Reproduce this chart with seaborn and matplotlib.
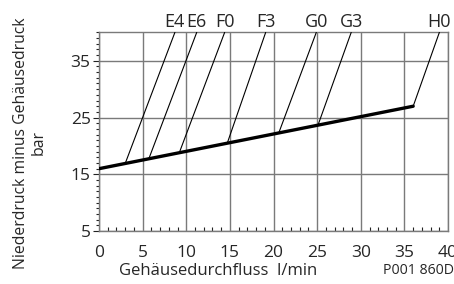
import numpy as np
import pandas as pd
import matplotlib
matplotlib.use("Agg")
import matplotlib.pyplot as plt
import seaborn as sns
from matplotlib.ticker import MultipleLocator

# ---- Daten ----
base_flow = [0.0, 36.0]          # Gehäusedurchfluss l/min
base_pressure = [16.0, 27.0]     # Differenzdruck bar

curve_names = ["E4", "E6", "F0", "F3", "G0", "G3", "H0"]
curve_x_start = [3.0, 5.7, 9.2, 14.7, 20.6, 25.1, 36.0]
curve_y_start = [16.9, 17.7, 18.8, 20.5, 22.3, 23.7, 27.0]
curve_x_end = [8.7, 11.2, 14.4, 19.1, 24.9, 28.9, 39.0]
curve_y_end = [40.0, 40.0, 40.0, 40.0, 40.0, 40.0, 40.0]

x_ticks = [0, 5, 10, 15, 20, 25, 30, 35, 40]
y_ticks = [5, 15, 25, 35]

sns.set_style("ticks")
plt.rcParams["font.family"] = ["Open Sans", "DejaVu Sans"]

fig = plt.figure(figsize=(4.54, 2.84), dpi=100)
ax = fig.add_axes([0.218, 0.186, 0.769, 0.700])

grid_col = "#7a7a7a"

# Kennlinien (dünn)
for name, x0, y0, x1, y1 in zip(curve_names, curve_x_start, curve_y_start,
                                curve_x_end, curve_y_end):
    sns.lineplot(x=[x0, x1], y=[y0, y1], color="black", linewidth=0.8,
                 ax=ax, zorder=3)
    ax.text(x1, y1 + 0.9, name, ha="center", va="baseline", fontsize=13,
            clip_on=False)

# Grundlinie (dick)
sns.lineplot(x=base_flow, y=base_pressure, color="black", linewidth=2.4,
             ax=ax, zorder=4)

ax.set_xlim(0, 40)
ax.set_ylim(5, 40)
ax.set_xticks(x_ticks)
ax.set_yticks(y_ticks)
ax.xaxis.set_minor_locator(MultipleLocator(1))
ax.yaxis.set_minor_locator(MultipleLocator(1))

ax.grid(True, which="major", color=grid_col, linewidth=1.0)
for sp in ax.spines.values():
    sp.set_color(grid_col)
    sp.set_linewidth(1.0)

ax.tick_params(axis="x", which="major", length=0, pad=10, labelsize=12.5)
ax.tick_params(axis="x", which="minor", direction="in", length=3,
               width=0.8, color="#222222")
ax.tick_params(axis="y", which="major", direction="out", length=4,
               width=0.8, color="#222222", pad=2, labelsize=12.5)
ax.tick_params(axis="y", which="minor", direction="out", length=2.5,
               width=0.8, color="#222222")

ax.set_xlabel("Gehäusedurchfluss  l/min", fontsize=12)
ax.xaxis.set_label_coords(0.341, -0.16)
ax.set_ylabel("Niederdruck minus Gehäusedruck\nbar", fontsize=11.3,
              linespacing=1.1)
ax.yaxis.set_label_coords(-0.15, 0.444)

fig.text(1.0, 0.049, "P001 860D", ha="right", va="center", fontsize=10.2)

fig.savefig("out.png", dpi=100)
